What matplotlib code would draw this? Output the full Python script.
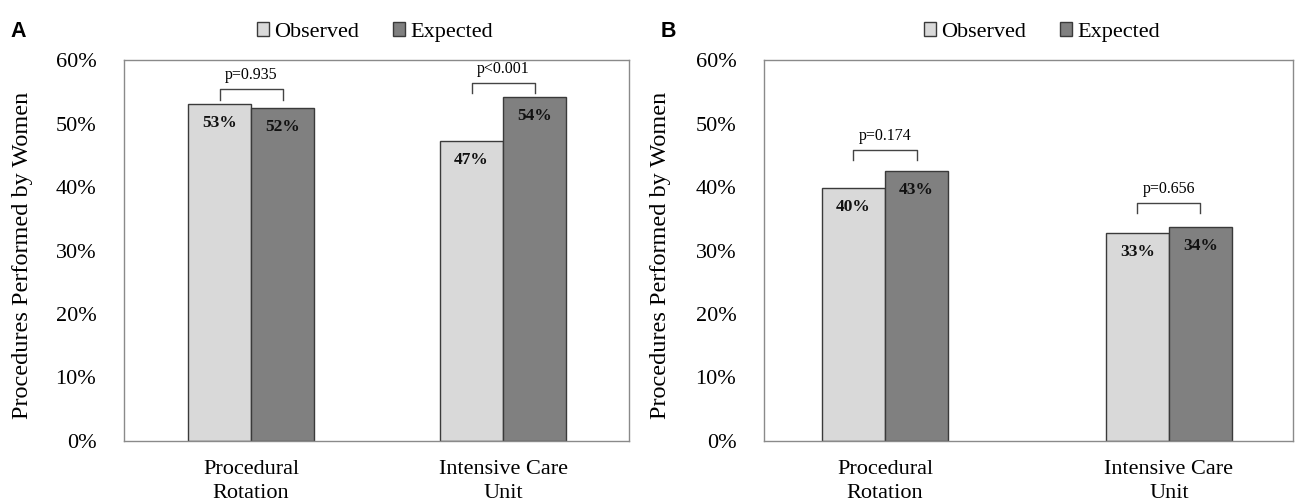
import numpy as np
import matplotlib.pyplot as plt
from matplotlib.ticker import PercentFormatter

categories = ["Procedural\nRotation", "Intensive Care\nUnit"]
series_names = ["Observed", "Expected"]

observed_a = [53.0, 47.2]
expected_a = [52.4, 54.2]
labels_obs_a = ["53%", "47%"]
labels_exp_a = ["52%", "54%"]
pvals_a = ["p=0.935", "p<0.001"]

observed_b = [39.8, 32.8]
expected_b = [42.5, 33.7]
labels_obs_b = ["40%", "33%"]
labels_exp_b = ["43%", "34%"]
pvals_b = ["p=0.174", "p=0.656"]

# bracket heights (top of bracket, bottom of legs), in %
brackets_a = [(55.4, 53.7), (56.4, 54.8)]
brackets_b = [(45.8, 44.3), (37.5, 35.9)]

plt.rcParams['font.family'] = ['Liberation Serif', 'DejaVu Serif']

OBS_COLOR = '#d9d9d9'
EXP_COLOR = '#808080'
EDGE = '#3a3a3a'


def draw_panel(fig, ax, obs, exp, lab_obs, lab_exp, pvals, brackets, width, xlim,
               letter, letter_x, ylabel_x, legend_x):
    x = np.arange(len(categories))
    ax.bar(x - width / 2, obs, width, color=OBS_COLOR, edgecolor=EDGE, linewidth=1, label=series_names[0])
    ax.bar(x + width / 2, exp, width, color=EXP_COLOR, edgecolor=EDGE, linewidth=1, label=series_names[1])
    for xi, v, t in zip(x - width / 2, obs, lab_obs):
        ax.text(xi, v - 1.7, t, ha='center', va='top', fontsize=12.5, fontweight='bold', color='#111111')
    for xi, v, t in zip(x + width / 2, exp, lab_exp):
        ax.text(xi, v - 1.7, t, ha='center', va='top', fontsize=12.5, fontweight='bold', color='#111111')
    for xi, p, (top, bot) in zip(x, pvals, brackets):
        ax.plot([xi - width / 2, xi - width / 2, xi + width / 2, xi + width / 2],
                [bot, top, top, bot], color='#444444', lw=1)
        ax.text(xi, top + 1.0, p, ha='center', va='bottom', fontsize=11.5)

    ax.set_xlim(*xlim)
    ax.set_ylim(0, 60)
    ax.set_yticks(np.arange(0, 61, 10))
    ax.yaxis.set_major_formatter(PercentFormatter(decimals=0))
    ax.set_xticks(x)
    ax.set_xticklabels(categories, fontsize=16, linespacing=1.35)
    ax.tick_params(axis='both', length=0, labelsize=16)
    ax.tick_params(axis='y', pad=20)
    ax.tick_params(axis='x', pad=14)
    for s in ax.spines.values():
        s.set_color('#8a8a8a')
        s.set_linewidth(1)
    fig.text(ylabel_x, 0.49, "Procedures Performed by Women", rotation=90,
             ha='center', va='center', fontsize=17.5)
    handles, labels = ax.get_legend_handles_labels()
    fig.legend(handles, labels, loc='center', bbox_to_anchor=(legend_x, 0.936), ncol=2,
               frameon=False, fontsize=16, handlelength=0.55, handleheight=0.55,
               handletextpad=0.25, columnspacing=1.5, borderaxespad=0, borderpad=0)
    fig.text(letter_x, 0.937, letter, fontsize=15.5, fontweight='bold',
             family='Liberation Sans', ha='left', va='center')


fig = plt.figure(figsize=(12.95, 5.01), dpi=100)
ax_a = fig.add_axes([0.0958, 0.1198, 0.39, 0.7604])
ax_b = fig.add_axes([0.590, 0.1198, 0.4085, 0.7604])

draw_panel(fig, ax_a, observed_a, expected_a, labels_obs_a, labels_exp_a, pvals_a, brackets_a,
           0.25, (-0.504, 1.5), "A", 0.008, 0.017, 0.2896)
draw_panel(fig, ax_b, observed_b, expected_b, labels_obs_b, labels_exp_b, pvals_b, brackets_b,
           0.222, (-0.426, 1.437), "B", 0.51, 0.5104, 0.8046)

fig.savefig("out.png", dpi=100)
